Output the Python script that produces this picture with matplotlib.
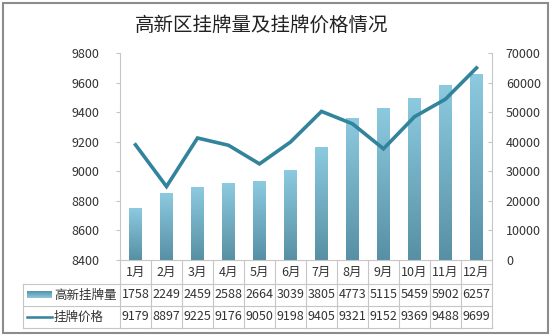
import numpy as np
import matplotlib
matplotlib.use("Agg")
import matplotlib.pyplot as plt
from matplotlib.colors import LinearSegmentedColormap
from matplotlib.patches import Rectangle
from matplotlib.ticker import FuncFormatter

plt.rcParams["font.family"] = ["Noto Sans CJK SC", "DejaVu Sans"]

title = "高新区挂牌量及挂牌价格情况"
months = ["1月", "2月", "3月", "4月", "5月", "6月", "7月", "8月", "9月", "10月", "11月", "12月"]
listing_label = "高新挂牌量"
price_label = "挂牌价格"
listings = [1758, 2249, 2459, 2588, 2664, 3039, 3805, 4773, 5115, 5459, 5902, 6257]
prices = [9179, 8897, 9225, 9176, 9050, 9198, 9405, 9321, 9152, 9369, 9488, 9699]

W, H = 550, 335
LEFT, RIGHT, TOP, BOTTOM = 120, 492, 53, 260
LINE_COLOR = "#31849b"
GRID = "#c6c6c6"
TEXT = "#333333"
bar_cmap = LinearSegmentedColormap.from_list("bar", ["#5790a4", "#8ccae0"])

fig = plt.figure(figsize=(W / 100, H / 100), dpi=100)
fig.patch.set_facecolor("white")

# price line on the left axis
ax = fig.add_axes([LEFT / W, 1 - BOTTOM / H, (RIGHT - LEFT) / W, (BOTTOM - TOP) / H])
ax2 = ax.twinx()
ax.set_zorder(ax2.get_zorder() + 1)
ax.patch.set_visible(False)

x = np.arange(len(months))
ax.plot(x, prices, color=LINE_COLOR, lw=2.6, solid_joinstyle="miter", zorder=5)
ax.set_xlim(-0.5, len(months) - 0.5)
ax.set_ylim(8400, 9800)
ax.set_yticks(np.arange(8400, 9801, 200))
ax.set_xticks([])

# listings on the right axis, labelled in tens
bars = ax2.bar(x, listings, width=0.4, color="none", edgecolor="none")
grad = np.linspace(0, 1, 256).reshape(-1, 1)
for b in bars:
    x0, w, h = b.get_x(), b.get_width(), b.get_height()
    ax2.imshow(grad, cmap=bar_cmap, origin="lower", aspect="auto",
               extent=[x0, x0 + w, 0, h], zorder=2)
ax2.set_xlim(-0.5, len(months) - 0.5)
ax2.set_ylim(0, 7000)
ax2.set_yticks(np.arange(0, 7001, 1000))
ax2.yaxis.set_major_formatter(FuncFormatter(lambda v, _: f"{int(v * 10)}"))

for a in (ax, ax2):
    for s in ("top", "bottom"):
        a.spines[s].set_visible(False)
    a.spines["left"].set_color(GRID)
    a.spines["right"].set_color(GRID)
    a.tick_params(axis="y", colors=GRID, labelcolor=TEXT, labelsize=9, length=3, width=0.8)
ax.spines["right"].set_visible(False)
ax2.spines["left"].set_visible(False)
ax.tick_params(axis="y", pad=12)
ax2.tick_params(axis="y", direction="in", pad=10)

# data table under the plot, drawn in pixel space
ov = fig.add_axes([0, 0, 1, 1])
ov.set_xlim(0, W)
ov.set_ylim(H, 0)
ov.axis("off")

col_w = (RIGHT - LEFT) / len(months)
rows = [BOTTOM, 284, 306, 328]
TABLE_L = 23

def hline(y, x0, x1):
    ov.plot([x0, x1], [y, y], color=GRID, lw=0.8)

def vline(xp, y0, y1):
    ov.plot([xp, xp], [y0, y1], color=GRID, lw=0.8)

hline(rows[0], LEFT, RIGHT)
for y in rows[1:]:
    hline(y, TABLE_L, RIGHT)
vline(TABLE_L, rows[1], rows[3])
for i in range(len(months) + 1):
    vline(LEFT + i * col_w, rows[0], rows[3])

for i, m in enumerate(months):
    cx = LEFT + (i + 0.5) * col_w
    ov.text(cx, (rows[0] + rows[1]) / 2, m, ha="center", va="center", fontsize=9, color=TEXT)
    ov.text(cx, (rows[1] + rows[2]) / 2, str(listings[i]), ha="center", va="center", fontsize=9, color=TEXT)
    ov.text(cx, (rows[2] + rows[3]) / 2, str(prices[i]), ha="center", va="center", fontsize=9, color=TEXT)

# legend keys inside the table
ym = (rows[1] + rows[2]) / 2
ov.imshow(grad, cmap=bar_cmap, origin="upper", aspect="auto",
          extent=[27, 52, ym + 3.5, ym - 3.5])
ov.set_xlim(0, W)
ov.set_ylim(H, 0)
ov.text(54, ym, listing_label, ha="left", va="center", fontsize=9, color=TEXT)
ym = (rows[2] + rows[3]) / 2
ov.plot([27, 52], [ym, ym], color=LINE_COLOR, lw=1.8)
ov.text(54, ym, price_label, ha="left", va="center", fontsize=9, color=TEXT)

# title and outer frame
ov.text(262, 25, title, ha="center", va="center", fontsize=14, color="#222222")
ov.add_patch(Rectangle((2.5, 2.5), W - 5, H - 5, fill=False, edgecolor="#8c8c8c", lw=1.5))

fig.savefig("out.png", dpi=100)
